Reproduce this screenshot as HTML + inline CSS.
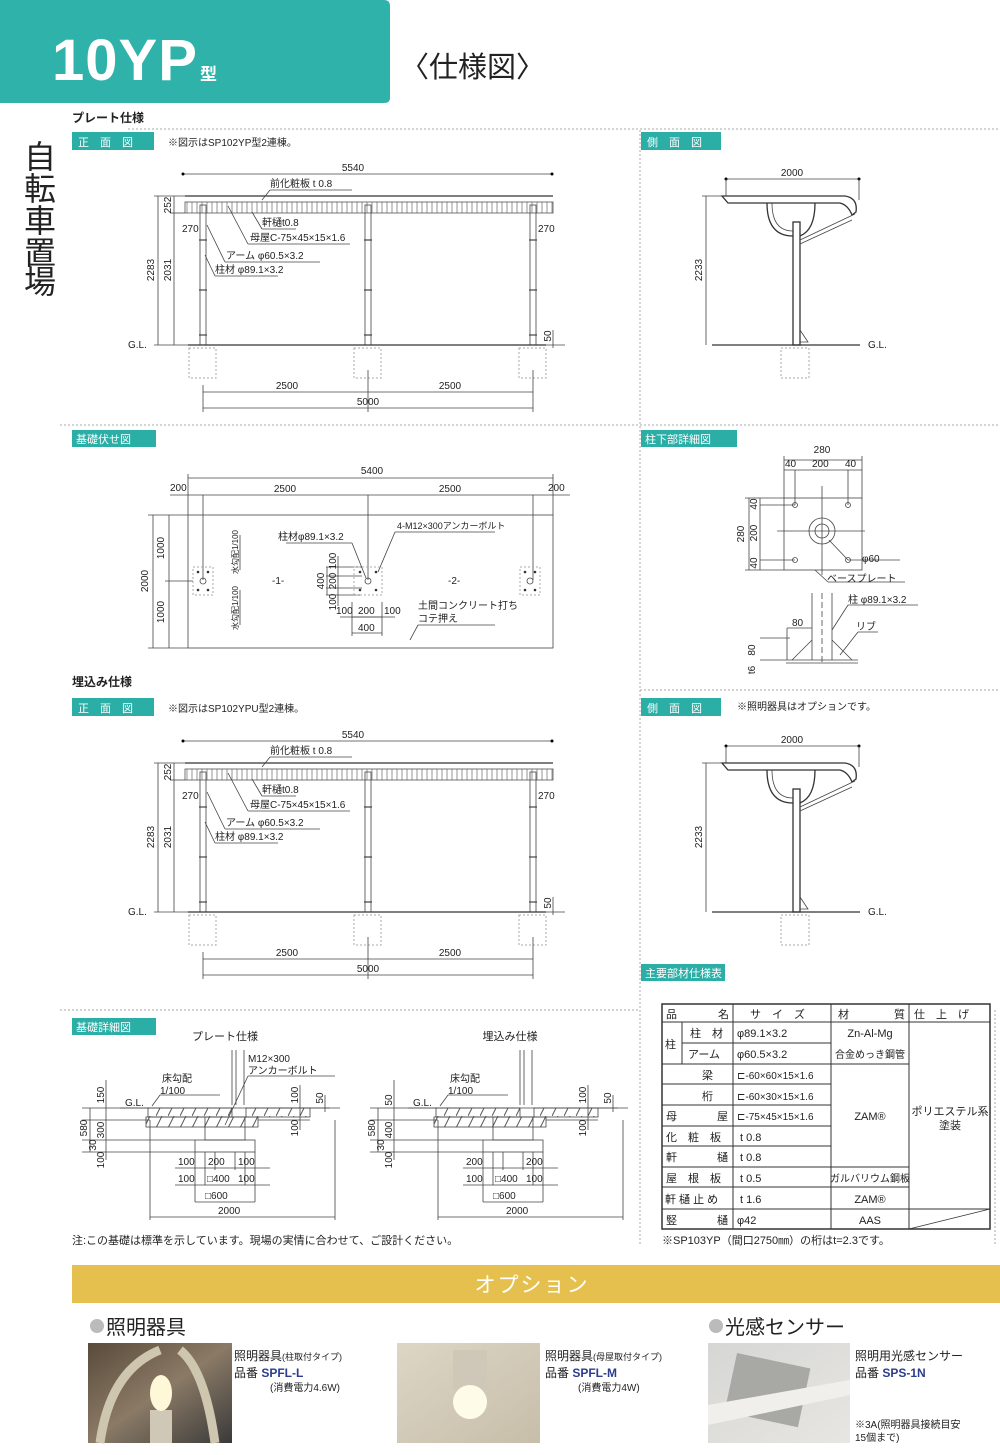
<!DOCTYPE html>
<html><head><meta charset="utf-8">
<style>
html,body{margin:0;padding:0;background:#fff;}
svg{display:block;}
text{font-family:"Liberation Sans","Noto Sans CJK JP",sans-serif;fill:#222;}
.s{font-size:10px;}
.m{font-size:11px;}
.w{fill:#fff;}
.ln{stroke:#444;stroke-width:0.8;fill:none;}
.th{stroke:#333;stroke-width:1.3;fill:none;}
.dt{stroke:#aaa;stroke-width:1;stroke-dasharray:2 2;fill:none;}
.tab{fill:#2aaea6;}
</style></head><body>
<svg width="1000" height="1455" viewBox="0 0 1000 1455" xmlns="http://www.w3.org/2000/svg">
<defs>
<pattern id="hv" width="5" height="14" patternUnits="userSpaceOnUse"><line x1="2" y1="0" x2="2" y2="14" stroke="#666" stroke-width="0.7"/></pattern>
<pattern id="hd" width="12" height="12" patternUnits="userSpaceOnUse"><line x1="0" y1="12" x2="6" y2="0" stroke="#555" stroke-width="1"/></pattern>
<g id="front">
  <line class="ln" x1="183" y1="174" x2="552" y2="174"/>
  <circle cx="183" cy="174" r="1.5"/><circle cx="552" cy="174" r="1.5"/>
  <line class="th" x1="185" y1="196" x2="553" y2="196"/>
  <rect x="185" y="202" width="368" height="11" fill="url(#hv)" stroke="#555" stroke-width="0.8"/>
  <g class="ln">
    <rect x="200" y="205" width="6" height="140"/>
    <rect x="365" y="205" width="6" height="140"/>
    <rect x="530" y="205" width="6" height="140"/>
  </g>
  <g stroke="#444" stroke-width="1.2">
    <line x1="199" y1="240" x2="207" y2="240"/><line x1="199" y1="290" x2="207" y2="290"/><line x1="199" y1="335" x2="207" y2="335"/>
    <line x1="364" y1="240" x2="372" y2="240"/><line x1="364" y1="290" x2="372" y2="290"/><line x1="364" y1="335" x2="372" y2="335"/>
    <line x1="529" y1="240" x2="537" y2="240"/><line x1="529" y1="290" x2="537" y2="290"/><line x1="529" y1="335" x2="537" y2="335"/>
  </g>
  <line class="th" x1="188" y1="345" x2="546" y2="345"/>
  <line class="ln" x1="546" y1="345" x2="565" y2="345"/>
  <g class="dt">
    <rect x="189" y="348" width="27" height="30"/><rect x="354" y="348" width="27" height="30"/><rect x="519" y="348" width="27" height="30"/>
  </g>
  <g class="ln">
    <line x1="158" y1="196" x2="158" y2="345"/><line x1="174" y1="196" x2="174" y2="345"/>
    <line x1="154" y1="196" x2="185" y2="196"/><line x1="154" y1="345" x2="188" y2="345"/>
    <line x1="170" y1="213" x2="185" y2="213"/>
    <line x1="203" y1="385" x2="203" y2="412"/><line x1="368" y1="370" x2="368" y2="412"/><line x1="533" y1="370" x2="533" y2="412"/>
    <line x1="203" y1="392" x2="533" y2="392"/><line x1="203" y1="408" x2="533" y2="408"/>
    <line x1="553" y1="330" x2="553" y2="348"/>
    <line x1="270" y1="190" x2="352" y2="190"/><line x1="270" y1="190" x2="262" y2="200"/>
    <line x1="262" y1="229" x2="296" y2="229"/><line x1="262" y1="229" x2="252" y2="212"/>
    <line x1="248" y1="244" x2="350" y2="244"/><line x1="248" y1="244" x2="228" y2="206"/>
    <line x1="225" y1="262" x2="320" y2="262"/><line x1="225" y1="262" x2="207" y2="225"/>
    <line x1="215" y1="276" x2="278" y2="276"/><line x1="215" y1="276" x2="205" y2="255"/>
  </g>
</g>
<g id="side">
  <line class="ln" x1="726" y1="179" x2="859" y2="179"/>
  <circle cx="726" cy="179" r="1.5"/><circle cx="859" cy="179" r="1.5"/>
  <line class="ln" x1="859" y1="179" x2="859" y2="200"/><line class="ln" x1="726" y1="179" x2="726" y2="196"/>
  <path class="th" d="M722 196 L845 196 Q858 198 856 212 L852 215 Q848 205 840 203 L728 203 Z"/>
  <path class="th" d="M767 203 Q767 236 793 236 M815 203 Q815 230 800 236"/>
  <path class="ln" d="M772 203 Q772 231 793 231"/>
  <rect class="th" x="793" y="222" width="7" height="123"/>
  <path class="ln" d="M800 240 L855 214 M800 244 L852 220"/>
  <path class="ln" d="M800 330 L808 342 L800 342"/>
  <line class="th" x1="712" y1="345" x2="860" y2="345"/>
  <line class="ln" x1="706" y1="196" x2="706" y2="345"/><line class="ln" x1="702" y1="196" x2="722" y2="196"/>
  <rect class="dt" x="781" y="348" width="28" height="30"/>
</g>
</defs>

<!-- header -->
<path d="M0 0 H384 Q390 0 390 6 V98 Q390 103 384 103 H0 Z" fill="#2fb2aa"/>
<text x="52" y="80" class="w" style="font-size:58px;font-weight:bold;letter-spacing:1px;font-family:'Liberation Sans Narrow','Liberation Sans',sans-serif">10YP</text>
<text x="200" y="80" class="w" style="font-size:17px;font-weight:bold">型</text>
<text x="400" y="77" style="font-size:29px">〈仕様図〉</text>
<text x="72" y="122" style="font-size:12px;font-weight:bold">プレート仕様</text>
<g style="font-size:32px">
<text x="24" y="168">自</text><text x="24" y="200">転</text><text x="24" y="232">車</text><text x="24" y="264">置</text><text x="24" y="293">場</text>
</g>
<!-- separators -->
<g class="dt" stroke="#bbb">
<line x1="128" y1="129" x2="1000" y2="129"/>
<line x1="640" y1="130" x2="640" y2="1245"/>
<line x1="60" y1="425" x2="1000" y2="425"/>
<line x1="640" y1="690" x2="1000" y2="690"/>
<line x1="60" y1="1010" x2="640" y2="1010"/>
<line x1="995" y1="1010" x2="995" y2="1245"/>
</g>
<!-- tabs -->
<rect class="tab" x="72" y="132" width="82" height="18"/><text x="78" y="146" class="w m">正　面　図</text>
<text x="168" y="146" class="s">※図示はSP102YP型2連棟。</text>
<rect class="tab" x="641" y="132" width="80" height="18"/><text x="647" y="146" class="w m">側　面　図</text>
<rect class="tab" x="72" y="430" width="84" height="17"/><text x="76" y="443" class="w m">基礎伏せ図</text>
<rect class="tab" x="641" y="430" width="96" height="17"/><text x="645" y="443" class="w m">柱下部詳細図</text>
<text x="72" y="686" style="font-size:12px;font-weight:bold">埋込み仕様</text>
<rect class="tab" x="72" y="698" width="82" height="18"/><text x="78" y="712" class="w m">正　面　図</text>
<text x="168" y="712" class="s">※図示はSP102YPU型2連棟。</text>
<rect class="tab" x="641" y="698" width="80" height="18"/><text x="647" y="712" class="w m">側　面　図</text>
<text x="737" y="710" class="s">※照明器具はオプションです。</text>
<rect class="tab" x="641" y="964" width="84" height="17"/><text x="645" y="977" class="w m">主要部材仕様表</text>
<rect class="tab" x="72" y="1018" width="84" height="17"/><text x="76" y="1031" class="w m">基礎詳細図</text>

<!-- front views -->
<use href="#front"/>
<use href="#front" transform="translate(0,567)"/>
<g class="s">
<text x="353" y="171" text-anchor="middle">5540</text>
<text x="270" y="187">前化粧板 t 0.8</text>
<text x="262" y="226">軒樋t0.8</text>
<text x="250" y="241">母屋C-75×45×15×1.6</text>
<text x="226" y="259">アーム φ60.5×3.2</text>
<text x="215" y="273">柱材 φ89.1×3.2</text>
<text x="182" y="232">270</text><text x="538" y="232">270</text>
<text x="128" y="348">G.L.</text>
<text x="287" y="389" text-anchor="middle">2500</text><text x="450" y="389" text-anchor="middle">2500</text>
<text x="368" y="405" text-anchor="middle">5000</text>
<text transform="translate(154,270) rotate(-90)" text-anchor="middle">2283</text>
<text transform="translate(171,270) rotate(-90)" text-anchor="middle">2031</text>
<text transform="translate(171,205) rotate(-90)" text-anchor="middle">252</text>
<text transform="translate(551,336) rotate(-90)" text-anchor="middle">50</text>
</g>
<g class="s" transform="translate(0,567)">
<text x="353" y="171" text-anchor="middle">5540</text>
<text x="270" y="187">前化粧板 t 0.8</text>
<text x="262" y="226">軒樋t0.8</text>
<text x="250" y="241">母屋C-75×45×15×1.6</text>
<text x="226" y="259">アーム φ60.5×3.2</text>
<text x="215" y="273">柱材 φ89.1×3.2</text>
<text x="182" y="232">270</text><text x="538" y="232">270</text>
<text x="128" y="348">G.L.</text>
<text x="287" y="389" text-anchor="middle">2500</text><text x="450" y="389" text-anchor="middle">2500</text>
<text x="368" y="405" text-anchor="middle">5000</text>
<text transform="translate(154,270) rotate(-90)" text-anchor="middle">2283</text>
<text transform="translate(171,270) rotate(-90)" text-anchor="middle">2031</text>
<text transform="translate(171,205) rotate(-90)" text-anchor="middle">252</text>
<text transform="translate(551,336) rotate(-90)" text-anchor="middle">50</text>
</g>

<!-- side views -->
<use href="#side"/>
<use href="#side" transform="translate(0,567)"/>
<g class="s">
<text x="792" y="176" text-anchor="middle">2000</text>
<text x="868" y="348">G.L.</text>
<text transform="translate(702,270) rotate(-90)" text-anchor="middle">2233</text>
<text x="792" y="743" text-anchor="middle">2000</text>
<text x="868" y="915">G.L.</text>
<text transform="translate(702,837) rotate(-90)" text-anchor="middle">2233</text>
</g>

<!-- base plan -->
<g class="ln">
<rect x="188" y="515" width="365" height="133"/>
<line x1="188" y1="478" x2="553" y2="478"/>
<line x1="170" y1="495" x2="570" y2="495"/>
<line x1="188" y1="474" x2="188" y2="515"/><line x1="553" y1="474" x2="553" y2="515"/>
<line x1="203" y1="495" x2="203" y2="580"/><line x1="368" y1="495" x2="368" y2="580"/><line x1="533" y1="495" x2="533" y2="580"/>
<line x1="148" y1="515" x2="188" y2="515"/><line x1="148" y1="648" x2="188" y2="648"/>
<line x1="153" y1="515" x2="153" y2="648"/><line x1="169" y1="515" x2="169" y2="648"/>
<line x1="165" y1="581" x2="193" y2="581"/>
<line x1="240" y1="535" x2="240" y2="570"/><line x1="240" y1="590" x2="240" y2="625"/>
<line x1="286" y1="543" x2="352" y2="543"/><line x1="352" y1="543" x2="366" y2="578"/>
<line x1="395" y1="532" x2="495" y2="532"/><line x1="395" y1="532" x2="378" y2="572"/>
<line x1="326" y1="567" x2="362" y2="567"/><line x1="326" y1="595" x2="362" y2="595"/>
<line x1="326" y1="576" x2="362" y2="576"/><line x1="326" y1="588" x2="362" y2="588"/>
<line x1="327" y1="567" x2="327" y2="595"/><line x1="338" y1="556" x2="338" y2="606"/>
<line x1="352" y1="602" x2="352" y2="636"/><line x1="382" y1="602" x2="382" y2="636"/>
<line x1="352" y1="617" x2="382" y2="617"/><line x1="352" y1="633" x2="382" y2="633"/>
<line x1="340" y1="617" x2="395" y2="617"/>
<line x1="418" y1="625" x2="495" y2="625"/><line x1="418" y1="625" x2="410" y2="640"/>
</g>
<g class="dt">
<rect x="193" y="567" width="20" height="28"/><rect x="354" y="567" width="28" height="28"/><rect x="520" y="567" width="20" height="28"/>
</g>
<g fill="#333">
<circle cx="198" cy="572" r="1.3"/><circle cx="208" cy="572" r="1.3"/><circle cx="198" cy="590" r="1.3"/><circle cx="208" cy="590" r="1.3"/>
<circle cx="360" cy="572" r="1.3"/><circle cx="376" cy="572" r="1.3"/><circle cx="360" cy="590" r="1.3"/><circle cx="376" cy="590" r="1.3"/>
<circle cx="525" cy="572" r="1.3"/><circle cx="535" cy="572" r="1.3"/><circle cx="525" cy="590" r="1.3"/><circle cx="535" cy="590" r="1.3"/>
</g>
<circle cx="203" cy="581" r="3" class="ln"/><circle cx="368" cy="581" r="3" class="ln"/><circle cx="530" cy="581" r="3" class="ln"/>
<g class="s">
<text x="372" y="474" text-anchor="middle">5400</text>
<text x="170" y="491">200</text><text x="548" y="491">200</text>
<text x="285" y="492" text-anchor="middle">2500</text><text x="450" y="492" text-anchor="middle">2500</text>
<text x="272" y="584">-1-</text><text x="448" y="584">-2-</text>
<text x="278" y="540">柱材φ89.1×3.2</text>
<text x="397" y="529" style="font-size:9px">4-M12×300アンカーボルト</text>
<text x="418" y="609">土間コンクリート打ち</text>
<text x="418" y="622">コテ押え</text>
<text x="336" y="614">100</text><text x="358" y="614">200</text><text x="384" y="614">100</text>
<text x="358" y="631">400</text>
<text transform="translate(164,548) rotate(-90)" text-anchor="middle">1000</text>
<text transform="translate(164,612) rotate(-90)" text-anchor="middle">1000</text>
<text transform="translate(148,581) rotate(-90)" text-anchor="middle">2000</text>
<text transform="translate(324,581) rotate(-90)" text-anchor="middle">400</text>
<text transform="translate(336,561) rotate(-90)" text-anchor="middle">100</text>
<text transform="translate(336,581) rotate(-90)" text-anchor="middle">200</text>
<text transform="translate(336,602) rotate(-90)" text-anchor="middle">100</text>
<text transform="translate(238,552) rotate(-90)" text-anchor="middle" style="font-size:8px">水勾配1/100</text>
<text transform="translate(238,608) rotate(-90)" text-anchor="middle" style="font-size:8px">水勾配1/100</text>
</g>

<!-- column base detail -->
<g class="ln">
<rect x="784" y="498" width="78" height="72"/>
<line x1="784" y1="460" x2="862" y2="460"/><line x1="784" y1="470" x2="862" y2="470"/>
<line x1="784" y1="456" x2="784" y2="498"/><line x1="862" y1="456" x2="862" y2="498"/>
<line x1="795" y1="470" x2="795" y2="505"/><line x1="848" y1="470" x2="848" y2="505"/>
<line x1="745" y1="498" x2="784" y2="498"/><line x1="745" y1="570" x2="784" y2="570"/>
<line x1="760" y1="505" x2="795" y2="505"/><line x1="760" y1="560" x2="795" y2="560"/>
<line x1="749" y1="498" x2="749" y2="570"/><line x1="760" y1="498" x2="760" y2="570"/>
<circle cx="822" cy="531" r="13"/><circle cx="822" cy="531" r="7"/>
<circle cx="795" cy="505" r="2.5"/><circle cx="848" cy="505" r="2.5"/><circle cx="795" cy="560" r="2.5"/><circle cx="848" cy="560" r="2.5"/>
<line x1="777" y1="531" x2="865" y2="531"/><line x1="822" y1="486" x2="822" y2="575"/>
<line x1="829" y1="540" x2="848" y2="560"/><line x1="848" y1="560" x2="900" y2="560"/>
<line x1="815" y1="570" x2="828" y2="582"/><line x1="828" y1="582" x2="905" y2="582"/>
<line x1="812" y1="593" x2="812" y2="660"/><line x1="832" y1="593" x2="832" y2="660"/>
<line x1="822" y1="593" x2="822" y2="662" stroke-dasharray="6 3"/>
<line x1="786" y1="660" x2="858" y2="660"/><line x1="786" y1="663" x2="858" y2="663"/>
<line x1="792" y1="660" x2="812" y2="640"/><line x1="852" y1="660" x2="832" y2="640"/>
<line x1="787" y1="628" x2="787" y2="660"/><line x1="787" y1="628" x2="812" y2="628"/>
<line x1="760" y1="638" x2="790" y2="638"/><line x1="760" y1="660" x2="786" y2="660"/>
<line x1="832" y1="630" x2="848" y2="605"/><line x1="848" y1="605" x2="918" y2="605"/>
<line x1="840" y1="655" x2="858" y2="632"/><line x1="858" y1="632" x2="878" y2="632"/>
</g>
<g class="s">
<text x="822" y="453" text-anchor="middle">280</text>
<text x="785" y="467">40</text><text x="812" y="467">200</text><text x="845" y="467">40</text>
<text x="862" y="562">φ60</text>
<text x="827" y="582">ベースプレート</text>
<text x="848" y="603">柱 φ89.1×3.2</text>
<text x="856" y="630">リブ</text>
<text x="792" y="626">80</text>
<text transform="translate(744,534) rotate(-90)" text-anchor="middle">280</text>
<text transform="translate(757,504) rotate(-90)" text-anchor="middle">40</text>
<text transform="translate(757,533) rotate(-90)" text-anchor="middle">200</text>
<text transform="translate(757,563) rotate(-90)" text-anchor="middle">40</text>
<text transform="translate(755,650) rotate(-90)" text-anchor="middle">80</text>
<text transform="translate(755,670) rotate(-90)" text-anchor="middle">t6</text>
</g>

<!-- table -->
<g stroke="#333" stroke-width="1" fill="none">
<rect x="662" y="1004" width="328" height="225" stroke-width="1.5"/>
<line x1="662" y1="1022" x2="990" y2="1022"/>
<line x1="682" y1="1043" x2="831" y2="1043"/>
<line x1="662" y1="1064" x2="909" y2="1064"/>
<line x1="662" y1="1084" x2="831" y2="1084"/>
<line x1="662" y1="1105" x2="831" y2="1105"/>
<line x1="662" y1="1126" x2="831" y2="1126"/>
<line x1="662" y1="1146" x2="831" y2="1146"/>
<line x1="662" y1="1167" x2="909" y2="1167"/>
<line x1="662" y1="1187" x2="909" y2="1187"/>
<line x1="662" y1="1209" x2="990" y2="1209"/>
<line x1="682" y1="1022" x2="682" y2="1064"/>
<line x1="733" y1="1004" x2="733" y2="1229"/>
<line x1="831" y1="1004" x2="831" y2="1229"/>
<line x1="909" y1="1004" x2="909" y2="1229"/>
<line x1="909" y1="1229" x2="990" y2="1209" stroke-width="0.7"/>
</g>
<g class="m">
<text x="666" y="1018">品</text><text x="718" y="1018">名</text>
<text x="750" y="1018">サ　イ　ズ</text>
<text x="838" y="1018">材</text><text x="894" y="1018">質</text>
<text x="914" y="1018">仕　上　げ</text>
<text x="665" y="1048">柱</text>
<text x="690" y="1037">柱　材</text><text x="737" y="1037">φ89.1×3.2</text>
<text x="688" y="1058">アーム</text><text x="737" y="1058">φ60.5×3.2</text>
<text x="702" y="1079">梁</text><text x="737" y="1079" class="s">⊏-60×60×15×1.6</text>
<text x="702" y="1100">桁</text><text x="737" y="1100" class="s">⊏-60×30×15×1.6</text>
<text x="666" y="1120">母</text><text x="717" y="1120">屋</text><text x="737" y="1120" class="s">⊏-75×45×15×1.6</text>
<text x="666" y="1141">化　粧　板</text><text x="740" y="1141">t 0.8</text>
<text x="666" y="1161">軒</text><text x="717" y="1161">樋</text><text x="740" y="1161">t 0.8</text>
<text x="666" y="1182">屋　根　板</text><text x="740" y="1182">t 0.5</text>
<text x="665" y="1203">軒 樋 止 め</text><text x="740" y="1203">t 1.6</text>
<text x="666" y="1224">竪</text><text x="717" y="1224">樋</text><text x="737" y="1224">φ42</text>
<text x="870" y="1037" text-anchor="middle">Zn-Al-Mg</text>
<text x="870" y="1058" text-anchor="middle" class="s">合金めっき鋼管</text>
<text x="870" y="1120" text-anchor="middle">ZAM®</text>
<text x="870" y="1182" text-anchor="middle" class="s">ガルバリウム鋼板</text>
<text x="870" y="1203" text-anchor="middle">ZAM®</text>
<text x="870" y="1224" text-anchor="middle">AAS</text>
<text x="950" y="1115" text-anchor="middle">ポリエステル系</text>
<text x="950" y="1129" text-anchor="middle">塗装</text>
</g>
<text x="662" y="1244" class="m">※SP103YP（間口2750㎜）の桁はt=2.3です。</text>

<!-- foundation details -->
<g id="fd1">
<g class="ln">
<line x1="232" y1="1050" x2="232" y2="1105"/><line x1="236" y1="1050" x2="236" y2="1105"/><line x1="244" y1="1050" x2="244" y2="1105"/>
<line x1="120" y1="1108" x2="340" y2="1108"/>
<rect x="146" y="1117" width="112" height="10" fill="url(#hd)"/>
<rect x="148" y="1108" width="84" height="9" fill="url(#hd)"/>
<rect x="246" y="1108" width="64" height="9" fill="url(#hd)"/>
<rect x="205" y="1117" width="40" height="23"/>
<rect x="195" y="1140" width="60" height="12"/>
<line x1="82" y1="1108" x2="150" y2="1108"/><line x1="82" y1="1120" x2="150" y2="1120"/>
<line x1="82" y1="1140" x2="195" y2="1140"/><line x1="82" y1="1152" x2="195" y2="1152"/>
<line x1="90" y1="1108" x2="90" y2="1152"/><line x1="106" y1="1080" x2="106" y2="1160"/>
<line x1="280" y1="1108" x2="330" y2="1108"/><line x1="258" y1="1120" x2="310" y2="1120"/>
<line x1="300" y1="1085" x2="300" y2="1130"/><line x1="325" y1="1095" x2="325" y2="1112"/>
<line x1="150" y1="1120" x2="150" y2="1220"/><line x1="335" y1="1120" x2="335" y2="1220"/>
<line x1="150" y1="1217" x2="335" y2="1217"/>
<line x1="195" y1="1152" x2="195" y2="1202"/><line x1="255" y1="1152" x2="255" y2="1202"/>
<line x1="205" y1="1152" x2="205" y2="1185"/><line x1="245" y1="1152" x2="245" y2="1185"/>
<line x1="215" y1="1152" x2="215" y2="1170"/><line x1="235" y1="1152" x2="235" y2="1170"/>
<line x1="175" y1="1168" x2="270" y2="1168"/><line x1="175" y1="1185" x2="270" y2="1185"/><line x1="195" y1="1202" x2="255" y2="1202"/>
<line x1="160" y1="1095" x2="220" y2="1095"/><line x1="160" y1="1095" x2="152" y2="1106"/>
</g>
</g>
<use href="#fd1" transform="translate(288,0)"/>
<g class="s">
<text x="225" y="1040" class="m" text-anchor="middle">プレート仕様</text>
<text x="510" y="1040" class="m" text-anchor="middle">埋込み仕様</text>
<text x="248" y="1062">M12×300</text><text x="248" y="1074">アンカーボルト</text>
<line x1="248" y1="1076" x2="335" y2="1076" stroke="#444" stroke-width="0.8"/>
<line x1="248" y1="1076" x2="225" y2="1125" stroke="#444" stroke-width="0.8"/>
<text x="162" y="1082">床勾配</text><text x="160" y="1094">1/100</text>
<text x="125" y="1106">G.L.</text>
<text x="450" y="1082">床勾配</text><text x="448" y="1094">1/100</text>
<text x="413" y="1106">G.L.</text>
<text x="178" y="1165">100</text><text x="208" y="1165">200</text><text x="238" y="1165">100</text>
<text x="178" y="1182">100</text><text x="207" y="1182">□400</text><text x="238" y="1182">100</text>
<text x="205" y="1199">□600</text>
<text x="218" y="1214">2000</text>
<text x="466" y="1165">200</text><text x="526" y="1165">200</text>
<text x="466" y="1182">100</text><text x="495" y="1182">□400</text><text x="526" y="1182">100</text>
<text x="493" y="1199">□600</text>
<text x="506" y="1214">2000</text>
<text transform="translate(87,1128) rotate(-90)" text-anchor="middle">580</text>
<text transform="translate(104,1095) rotate(-90)" text-anchor="middle">150</text>
<text transform="translate(96,1145) rotate(-90)" text-anchor="middle">30</text>
<text transform="translate(104,1130) rotate(-90)" text-anchor="middle">300</text>
<text transform="translate(104,1160) rotate(-90)" text-anchor="middle">100</text>
<text transform="translate(298,1095) rotate(-90)" text-anchor="middle">100</text>
<text transform="translate(298,1128) rotate(-90)" text-anchor="middle">100</text>
<text transform="translate(323,1098) rotate(-90)" text-anchor="middle">50</text>
<text transform="translate(375,1128) rotate(-90)" text-anchor="middle">580</text>
<text transform="translate(392,1100) rotate(-90)" text-anchor="middle">50</text>
<text transform="translate(384,1145) rotate(-90)" text-anchor="middle">30</text>
<text transform="translate(392,1130) rotate(-90)" text-anchor="middle">400</text>
<text transform="translate(392,1160) rotate(-90)" text-anchor="middle">100</text>
<text transform="translate(586,1095) rotate(-90)" text-anchor="middle">100</text>
<text transform="translate(586,1128) rotate(-90)" text-anchor="middle">100</text>
<text transform="translate(611,1098) rotate(-90)" text-anchor="middle">50</text>
</g>
<text x="72" y="1244" class="m">注:この基礎は標準を示しています。現場の実情に合わせて、ご設計ください。</text>

<!-- options -->
<rect x="72" y="1265" width="928" height="38" fill="#e6c04e"/>
<text x="532" y="1292" class="w" text-anchor="middle" style="font-size:21px;letter-spacing:2px">オプション</text>
<circle cx="97" cy="1326" r="7" fill="#bbb"/>
<text x="106" y="1334" style="font-size:20px">照明器具</text>
<circle cx="716" cy="1326" r="7" fill="#bbb"/>
<text x="725" y="1334" style="font-size:20px">光感センサー</text>
<defs>
<linearGradient id="p1" x1="0" y1="0" x2="1" y2="1"><stop offset="0" stop-color="#5a4a3a"/><stop offset="0.5" stop-color="#8a7a66"/><stop offset="1" stop-color="#3a3a3a"/></linearGradient>
<linearGradient id="p2" x1="0" y1="0" x2="1" y2="1"><stop offset="0" stop-color="#ddd6c6"/><stop offset="1" stop-color="#c7bea9"/></linearGradient>
<linearGradient id="p3" x1="0" y1="0" x2="1" y2="1"><stop offset="0" stop-color="#d6d6d4"/><stop offset="1" stop-color="#e7e6e2"/></linearGradient>
</defs>
<rect x="88" y="1343" width="144" height="100" fill="url(#p1)"/>
<path d="M100 1443 Q110 1370 160 1350 M215 1443 Q205 1370 180 1350" stroke="#cfc6b0" stroke-width="9" fill="none"/>
<rect x="150" y="1410" width="22" height="33" fill="#cfc8b6"/>
<ellipse cx="161" cy="1393" rx="11" ry="18" fill="#fff8d8"/>
<rect x="397" y="1343" width="143" height="100" fill="url(#p2)"/>
<rect x="453" y="1350" width="34" height="40" fill="#cfc8b8"/>
<circle cx="470" cy="1402" r="17" fill="#fffbe9"/>
<rect x="708" y="1343" width="142" height="100" fill="url(#p3)"/>
<rect x="730" y="1360" width="75" height="60" fill="#a8a8a4" transform="rotate(12 767 1390)"/>
<path d="M708 1405 L850 1380 L850 1395 L708 1425 Z" fill="#f0efeb"/>
<g style="font-size:12px">
<text x="234" y="1360">照明器具<tspan style="font-size:9px">(柱取付タイプ)</tspan></text>
<text x="234" y="1377">品番 <tspan fill="#2a3d8f" font-weight="bold">SPFL-L</tspan></text>
<text x="270" y="1391" style="font-size:10px">(消費電力4.6W)</text>
<text x="545" y="1360">照明器具<tspan style="font-size:9px">(母屋取付タイプ)</tspan></text>
<text x="545" y="1377">品番 <tspan fill="#2a3d8f" font-weight="bold">SPFL-M</tspan></text>
<text x="578" y="1391" style="font-size:10px">(消費電力4W)</text>
<text x="855" y="1360">照明用光感センサー</text>
<text x="855" y="1377">品番 <tspan fill="#2a3d8f" font-weight="bold">SPS-1N</tspan></text>
<text x="855" y="1428" style="font-size:10px">※3A(照明器具接続目安</text>
<text x="855" y="1441" style="font-size:10px">15個まで)</text>
</g>
</svg>
</body></html>
